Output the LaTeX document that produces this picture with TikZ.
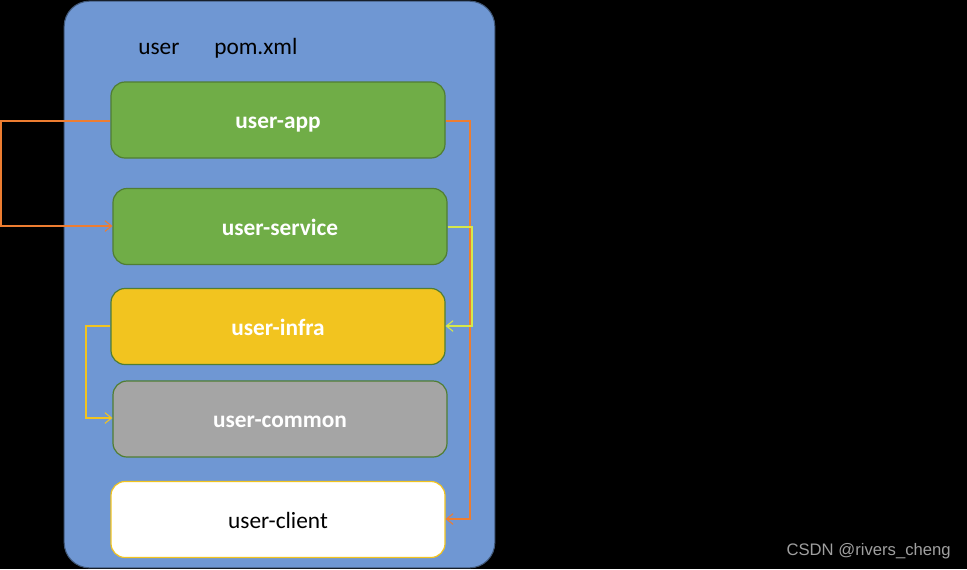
\documentclass[tikz,border=0pt]{standalone}
\usepackage{fontspec}
\setmainfont{Carlito}
\newfontfamily\wmfont{Liberation Sans}
\usetikzlibrary{arrows.meta}
\definecolor{bgblue}{HTML}{6F97D3}
\definecolor{bgedge}{HTML}{41597A}
\definecolor{appgreen}{HTML}{70AD47}
\definecolor{greenedge}{HTML}{507E32}
\definecolor{infrayellow}{HTML}{F2C41F}
\definecolor{commongray}{HTML}{A5A5A5}
\definecolor{clientedge}{HTML}{F2C41F}
\definecolor{orangeline}{HTML}{ED7D31}
\definecolor{limeline}{HTML}{D6E84A}
\definecolor{goldline}{HTML}{F2C41F}
\definecolor{wmgray}{HTML}{A0A0A0}
\tikzset{
  module/.style={draw=greenedge, line width=0.9pt, rounded corners=10.5pt, minimum width=250.5pt, minimum height=57pt, inner sep=0pt, font=\fontsize{17.5}{21}\selectfont\bfseries, text=white, text height=13pt, text depth=0pt},
  conn/.style={line width=0.8pt, -{Straight Barb[length=5pt,width=8pt,line width=0.8pt]}},
}
\begin{document}
\begin{tikzpicture}[x=0.75pt,y=-0.75pt]
\useasboundingbox[fill=black] (0,0) rectangle (967,569);
\node[draw=bgedge, fill=bgblue, line width=0.8pt, rounded corners=19pt, minimum width=323pt, minimum height=425pt, inner sep=0pt] (outer) at (279.5,284.5) {};
\node[font=\fontsize{17.5}{21}\selectfont, anchor=base west, inner sep=0pt] (lbluser) at (138,54) {user};
\node[font=\fontsize{17.5}{21}\selectfont, anchor=base west, inner sep=0pt] (lblpom) at (214,54) {pom.xml};
\node[module, fill=appgreen] (app) at (278,120) {user-app};
\node[module, fill=appgreen] (service) at (280,226.5) {user-service};
\node[module, fill=infrayellow] (infra) at (278,326.5) {user-infra};
\node[module, fill=commongray] (common) at (280,419) {user-common};
\node[module, fill=white, draw=clientedge, text=black, font=\fontsize{17.5}{21}\selectfont] (client) at (278,519.5) {user-client};
\node[font=\wmfont\fontsize{12.5}{15}\selectfont, text=wmgray, anchor=base east, inner sep=0pt] (wm) at (951,555) {CSDN @rivers\_cheng};
\draw[conn, orangeline] (app.west |- 0,121) -- (1,121) -- (1,226) -- (service.west |- 0,226);
\draw[conn, orangeline] (app.east |- 0,121) -- (470,121) -- (470,519) -- (client.east |- 0,519);
\draw[conn, limeline] (service.east |- 0,227) -- (472,227) -- (472,326) -- (infra.east |- 0,326);
\draw[conn, goldline] (infra.west |- 0,326) -- (86,326) -- (86,418) -- (common.west |- 0,418);
\end{tikzpicture}
\end{document}
